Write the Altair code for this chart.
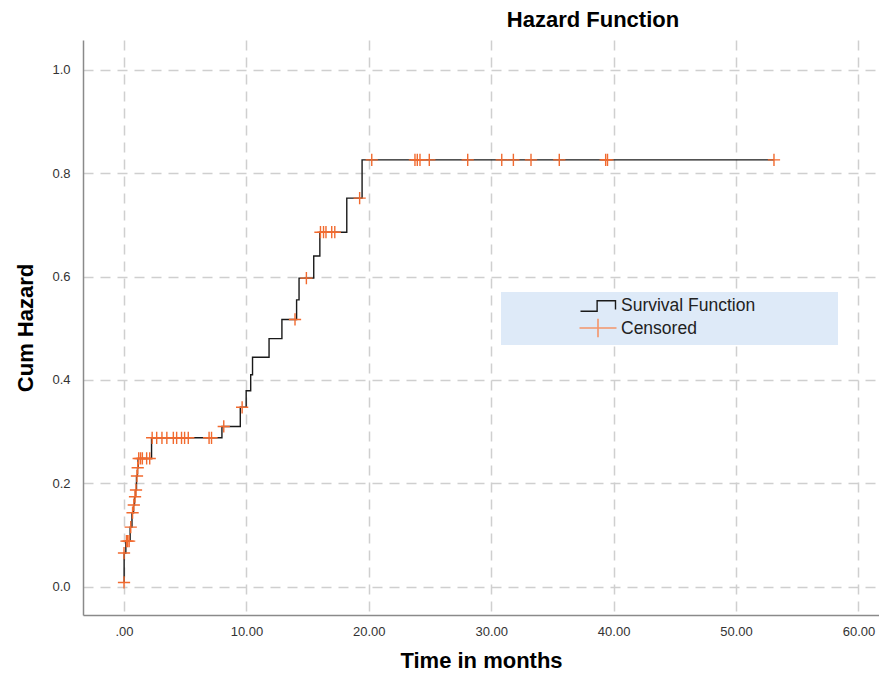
import altair as alt
import pandas as pd

# ---- data ----
step_time = [0.0, 0.01, 0.15, 0.5, 0.65, 0.78, 0.86, 0.94, 1.02, 1.1, 1.15, 2.25,
             8.0, 9.5, 9.98, 10.35, 10.5, 11.85, 12.9, 14.1, 14.3, 15.5, 16.0,
             18.2, 19.45, 53.1]
step_hazard = [0.008, 0.065, 0.088, 0.115, 0.143, 0.158, 0.174, 0.187, 0.214, 0.23,
               0.248, 0.288, 0.31, 0.347, 0.379, 0.41, 0.444, 0.48, 0.517, 0.555,
               0.597, 0.64, 0.686, 0.752, 0.826, 0.826]

cens_time = [0.0, 0.0, 0.2, 0.3, 0.42, 0.55, 0.7, 0.8, 0.9, 0.98, 1.06, 1.12,
             1.2, 1.35, 1.5, 1.85, 2.1, 2.3, 2.67, 3.1, 3.5, 4.03, 4.3, 4.7, 4.95,
             5.25, 6.95, 7.15, 8.15, 9.65, 13.97, 14.9, 16.05, 16.3, 16.5, 16.97,
             17.22, 19.25, 20.24, 23.77, 23.96, 24.18, 24.94, 28.08, 30.86, 31.81,
             33.25, 35.56, 39.35, 39.5, 53.1]
cens_hazard = [0.008, 0.065, 0.088, 0.088, 0.088, 0.115, 0.143, 0.158, 0.174, 0.187,
               0.214, 0.23, 0.248, 0.248, 0.248, 0.248, 0.248, 0.288, 0.288, 0.288,
               0.288, 0.288, 0.288, 0.288, 0.288, 0.288, 0.288, 0.288, 0.31, 0.347,
               0.517, 0.597, 0.686, 0.686, 0.686, 0.686, 0.686, 0.752, 0.826, 0.826,
               0.826, 0.826, 0.826, 0.826, 0.826, 0.826, 0.826, 0.826, 0.826, 0.826,
               0.826]

x_ticks = [0, 10, 20, 30, 40, 50, 60]
y_ticks = [0.0, 0.2, 0.4, 0.6, 0.8, 1.0]
legend_labels = ["Survival Function", "Censored"]
chart_title = "Hazard Function"
x_title = "Time in months"
y_title = "Cum Hazard"

steps = pd.DataFrame({"i": range(len(step_time)), "t": step_time, "h": step_hazard})
cens = pd.DataFrame({"t": cens_time, "h": cens_hazard})

FONT = "Liberation Sans"
ORANGE = "#f26a2e"
W, H = 796, 575

xscale = alt.Scale(domain=[-3.35, 61.68], nice=False, zero=False)
yscale = alt.Scale(domain=[-0.055, 1.058], nice=False, zero=False)

xaxis = alt.Axis(values=x_ticks, title=x_title,
                 labelExpr="datum.value == 0 ? '.00' : format(datum.value, '.2f')",
                 ticks=False, labelPadding=10, titlePadding=12)
yaxis = alt.Axis(values=y_ticks, title=y_title, format=".1f",
                 ticks=False, labelPadding=13, titlePadding=14)

line = alt.Chart(steps).mark_line(interpolate="step-after", color="#1a1a1a",
                                  strokeWidth=1.4).encode(
    x=alt.X("t:Q", scale=xscale, axis=xaxis),
    y=alt.Y("h:Q", scale=yscale, axis=yaxis),
    order="i:Q",
)

plus_path = "M-1,0L1,0M0,-1L0,1"
marks = alt.Chart(cens).mark_point(shape=plus_path, size=150, filled=False,
                                   stroke=ORANGE, strokeWidth=1.4, opacity=1).encode(
    x=alt.X("t:Q", scale=xscale),
    y=alt.Y("h:Q", scale=yscale),
)

one = alt.Data(values=[{}])
leg_box = alt.Chart(one).mark_rect(fill="#deeaf8").encode(
    x=alt.value(418), x2=alt.value(755), y=alt.value(252), y2=alt.value(305))
step_path = "M-1,0.3L-0.05,0.3L-0.05,-0.3L1,-0.3L1,0.2"
leg_sym1 = alt.Chart(one).mark_point(shape=step_path, size=1225, filled=False,
                                     stroke="#1a1a1a", strokeWidth=1.4, opacity=1).encode(
    x=alt.value(515), y=alt.value(266))
leg_sym2 = alt.Chart(one).mark_point(shape="M-1,0L1,0M0,-0.5L0,0.5", size=1369,
                                     filled=False, stroke="#f4956a", strokeWidth=1.6,
                                     opacity=1).encode(
    x=alt.value(515), y=alt.value(288))
leg_txt1 = alt.Chart(one).mark_text(
    align="left", baseline="middle", font=FONT, fontSize=17.5, color="#222222",
    text=legend_labels[0]).encode(x=alt.value(538), y=alt.value(266))
leg_txt2 = alt.Chart(one).mark_text(
    align="left", baseline="middle", font=FONT, fontSize=17.5, color="#222222",
    text=legend_labels[1]).encode(x=alt.value(538), y=alt.value(289))

chart = alt.layer(line, marks, leg_box, leg_sym1, leg_sym2, leg_txt1, leg_txt2).properties(
    width=W, height=H,
    title=alt.TitleParams(chart_title, font=FONT, fontSize=22, fontWeight="bold",
                          color="black", anchor="middle", dx=112, offset=8),
    autosize=alt.AutoSizeParams(type="none"),
    padding={"left": 75, "top": 32, "right": 0, "bottom": 58},
).configure_view(stroke=None).configure_axis(
    labelFont=FONT, labelFontSize=13, labelColor="#333333",
    titleFont=FONT, titleFontSize=22, titleFontWeight="bold", titleColor="black",
    domainColor="#8a8a8a", domainWidth=1.5,
    gridColor="#cfcfcf", gridDash=[10, 7], gridWidth=1.5,
)

chart.save("out.html", embed_options={"renderer": "svg", "actions": False})
